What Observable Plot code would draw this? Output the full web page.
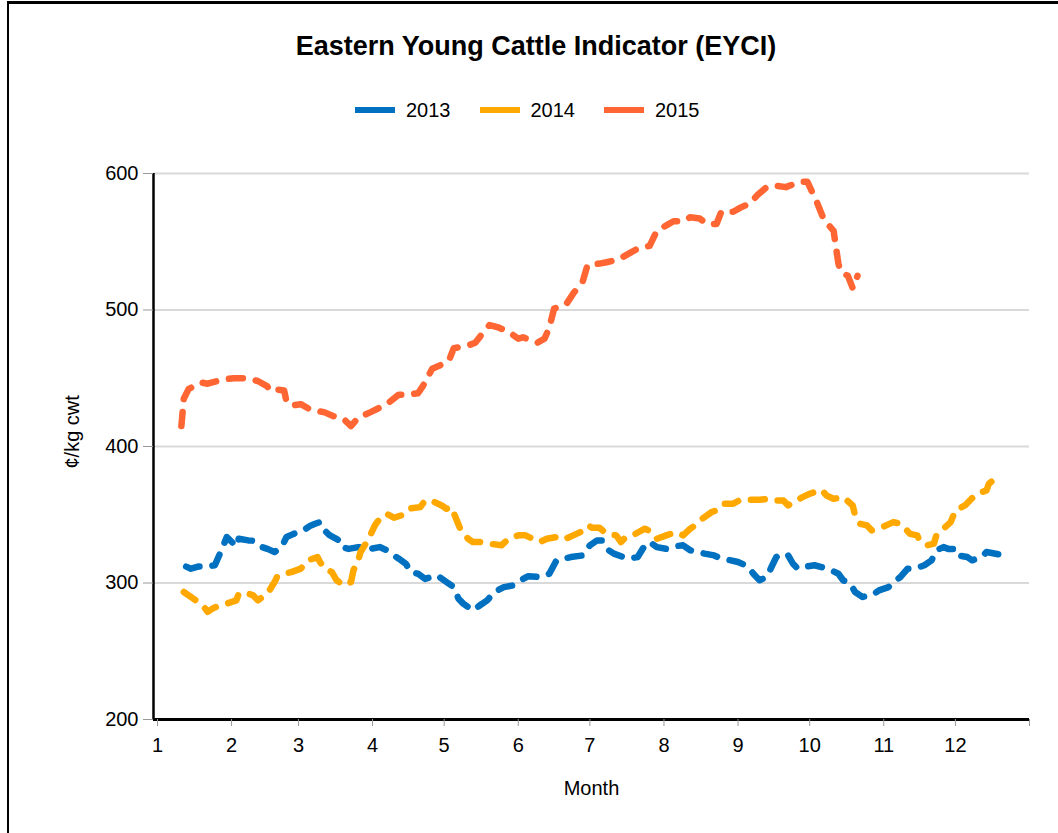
<!DOCTYPE html>
<html>
<head>
<meta charset="utf-8">
<script src="https://cdn.jsdelivr.net/npm/d3@7"></script>
<script src="https://cdn.jsdelivr.net/npm/@observablehq/plot@0.6"></script>
<style>
  html, body { margin: 0; padding: 0; background: #fff; }
  #wrap { position: relative; width: 1058px; height: 833px; overflow: hidden; font-family: "Liberation Sans", Arial, sans-serif; color: #000; }
  #frame { position: absolute; left: 7px; top: 1px; width: 1100px; height: 900px; border-top: 3px solid #000; border-left: 2px solid #000; }
  #title { position: absolute; left: 7px; top: 33px; width: 1058px; text-align: center; font-weight: bold; font-size: 27px; line-height: 26px; }
  #legend { position: absolute; left: 355px; top: 100px; height: 20px; display: flex; align-items: center; font-size: 20px; line-height: 20px; }
  .sw { width: 40px; height: 6px; margin-right: 11px; }
  .lt { margin-right: 29px; }
  #chart { position: absolute; left: 0; top: 140px; }
</style>
</head>
<body>
<div id="wrap">
  <div id="frame"></div>
  <div id="title">Eastern Young Cattle Indicator (EYCI)</div>
  <div id="legend"></div>
  <div id="chart"></div>
</div>
<script>
// Series names and colours
const years = ["2013", "2014", "2015"];
const colors = ["#0070c0", "#ffa800", "#ff6633"];

// x positions are day-of-year (0 = 1 January), values in ¢/kg cwt
const days2013 = [12,14,17,20,24,27,29,33,34,38,40,43,46,49,52,54,57,61,64,66,68,70,72,76,77,80,84,89,93,96,99,101,104,106,109,112,117,121,124,126,128,132,135,138,141,145,149,152,155,160,164,167,173,178,181,184,186,188,191,195,197,201,204,206,209,213,216,220,223,226,229,233,236,240,243,247,250,252,255,257,259,261,264,266,268,272,275,278,282,285,287,290,292,295,299,302,306,308,311,314,317,321,324,326,329,331,334,335,339,341,345,347,352];
const vals2013 = [312,310.5,312,312,313,325,333.7,326.8,332.4,331.2,331,326.8,325,322.7,326.3,333.7,336,338.5,342,343.4,344.6,338.5,335,331.2,326.3,325,326.3,325,326.3,324,320,317.8,314,308,306.8,303,305.6,300.7,297,288.5,284.9,280,283.7,287.3,293.4,297,298.3,302,304.9,304.4,306.8,316.6,319,320.2,327.6,331.2,331.2,325,321.5,319,317.8,319,327.6,330,326.3,325,326.8,327.6,324,322.7,321.5,320.2,317.8,316.6,315.4,312.2,305.6,302,304.4,311.7,319,321.5,320.2,314.1,310.5,312.2,313,311.7,309.3,306.8,302,299.5,293.4,289.8,291,294.6,297,300.7,304.4,310.5,310.5,313,316.6,323.9,326.3,325,325,320.2,319,316.6,319,322.7,321];

const days2014 = [11,15,19,21,23,26,29,33,34,37,40,42,46,49,50,53,56,60,63,67,68,70,73,75,78,81,82,84,85,88,91,93,96,99,102,105,110,112,116,119,121,123,125,127,130,132,135,139,144,147,151,154,160,163,167,170,174,177,180,182,185,188,192,194,196,200,204,207,209,213,217,220,223,225,228,232,234,237,241,244,248,252,256,258,262,264,266,270,273,278,280,283,287,291,292,294,297,299,302,305,308,311,313,315,318,319,322,325,326,329,332,334,338,340,343,347,348,350];
const vals2014 = [293.4,288.5,283.7,278.8,281.2,283.7,284.9,287.3,292.2,292.7,291,287.3,292.2,300.7,304.4,306.8,308,310.5,316.6,319,315.4,310.5,308,302,298.3,300.7,309.3,316.6,322.7,331.2,342.2,347.1,350.7,347.8,349.5,354.4,355.6,360.5,359.3,356.8,354.4,355.6,347.1,338.5,332.4,330,330,328.8,327.6,332.4,334.9,334.9,330,332.4,333.7,331.7,334.9,337.3,342.2,340.5,340.5,336,334.9,330,333.7,336,339.8,337.3,332.4,334.9,337.3,334.9,339.8,342.2,347.1,352,353.2,358.1,358.1,361,361,361,361.7,360.5,360.5,356.8,359.3,362.9,365.4,368.3,364.1,361.7,362.9,356.8,349.5,343.4,342.2,338.5,339.8,342.2,344.6,343.4,339.8,336,334.9,331.2,327.6,328.8,334.9,339.8,344.6,353.2,356.8,360.5,365.4,367.8,372.7,375.6];

const days2015 = [10,11,13,18,21,27,32,37,42,46,47,49,53,54,56,60,64,70,74,78,81,84,89,96,101,105,109,111,115,119,122,124,130,133,137,139,143,147,151,153,159,162,164,166,171,174,178,180,185,188,193,198,201,206,209,213,216,220,223,227,230,234,236,241,244,248,251,255,259,263,266,269,272,276,279,283,284,285,286,287,289,291,293];
const vals2015 = [415,435,442,447,446,449,450,450,448,444,441,442,441,433,430,431,427,425,422,420,415,421,425,431,438,438,439,444,457,460,463,472,474,476,485,489,487,484,479,480,476,479,487,501,504,512,521,533,534,535,537,542,545,547,558,562,565,565,568,567,563,563,572,572,575,578,584,590,591,590,592,594,594,579,566,558,546,534,528,527,525,516,525];

const yTicks = [200, 300, 400, 500, 600];
const gridVals = [300, 400, 500, 600];
const monthLabels = ["1","2","3","4","5","6","7","8","9","10","11","12",""];

// Build table
const toDate = d => new Date(Date.UTC(2015, 0, 1 + d));
const series = [[days2013, vals2013], [days2014, vals2014], [days2015, vals2015]];
const rows = [];
series.forEach(([ds, vs], i) => ds.forEach((d, j) => rows.push({year: years[i], date: toDate(d), value: vs[j]})));
const monthTicks = monthLabels.map((_, i) => new Date(Date.UTC(2015, i, 1)));

// Legend
const legend = document.getElementById("legend");
years.forEach((y, i) => {
  const s = document.createElement("div"); s.className = "sw"; s.style.background = colors[i];
  const t = document.createElement("div"); t.className = "lt"; t.textContent = y;
  legend.appendChild(s); legend.appendChild(t);
});

const xDomain = [new Date(Date.UTC(2015, 0, 1)), new Date(Date.UTC(2016, 0, 1))];

const chart = Plot.plot({
  width: 1058,
  height: 693,
  marginLeft: 153,
  marginRight: 29,
  marginTop: 33,
  marginBottom: 114,
  style: {fontFamily: "'Liberation Sans', Arial, sans-serif", fontSize: "20px", color: "#000", background: "transparent", overflow: "visible"},
  x: {type: "utc", domain: xDomain, insetLeft: 4, label: null},
  y: {domain: [200, 600], label: null},
  color: {domain: years, range: colors},
  marks: [
    Plot.ruleY(gridVals, {stroke: "#d9d9d9", strokeWidth: 2}),
    Plot.line(rows, {x: "date", y: "value", z: "year", stroke: "year", strokeWidth: 6.5,
      strokeDasharray: "14,13", strokeLinecap: "round", strokeLinejoin: "round"}),
    Plot.ruleY([200], {stroke: "#000", strokeWidth: 3}),
    Plot.ruleX([xDomain[0]], {dx: -4, stroke: "#000", strokeWidth: 2.5}),
    Plot.axisY({ticks: yTicks, tickSize: 10, tickPadding: 5, stroke: "#999", fill: "#000", fontSize: 20, label: null}),
    Plot.axisX({ticks: monthTicks, tickSize: 7, tickPadding: 11, stroke: "#999", fill: "#000", fontSize: 20, label: null,
      tickFormat: (d, i) => monthLabels[i]}),
    Plot.text(["Month"], {frameAnchor: "bottom", dy: 75, fontSize: 20, fill: "#000"}),
    Plot.text(["¢/kg cwt"], {frameAnchor: "left", dx: -81, dy: 22, rotate: -90, fontSize: 20, fill: "#000"})
  ]
});
document.getElementById("chart").appendChild(chart);
</script>
</body>
</html>
